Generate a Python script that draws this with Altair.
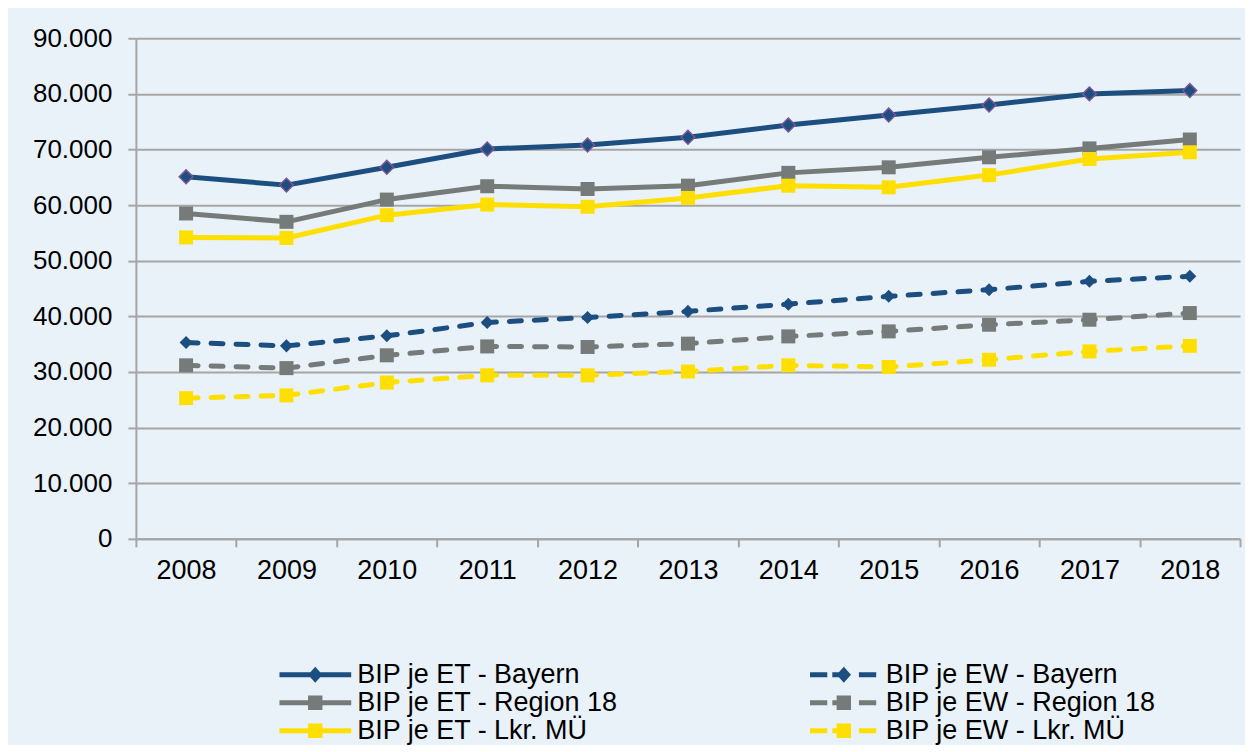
import altair as alt
import pandas as pd

years = ["2008", "2009", "2010", "2011", "2012", "2013", "2014", "2015", "2016", "2017", "2018"]

series_names = [
    "BIP je ET - Bayern",
    "BIP je ET - Region 18",
    "BIP je ET - Lkr. MÜ",
    "BIP je EW - Bayern",
    "BIP je EW - Region 18",
    "BIP je EW - Lkr. MÜ",
]

et_bayern = [65100, 63600, 66800, 70100, 70800, 72200, 74400, 76200, 78000, 80000, 80600]
et_region = [58500, 57000, 61000, 63400, 62900, 63500, 65800, 66800, 68600, 70200, 71800]
et_lkr = [54200, 54100, 58200, 60100, 59700, 61300, 63500, 63200, 65400, 68300, 69500]
ew_bayern = [35300, 34700, 36500, 38900, 39800, 40900, 42200, 43600, 44800, 46300, 47200]
ew_region = [31200, 30700, 33000, 34600, 34500, 35100, 36400, 37300, 38500, 39400, 40600]
ew_lkr = [25300, 25800, 28100, 29400, 29400, 30100, 31200, 30900, 32200, 33700, 34700]

y_ticks = [0, 10000, 20000, 30000, 40000, 50000, 60000, 70000, 80000, 90000]

values_by_series = [et_bayern, et_region, et_lkr, ew_bayern, ew_region, ew_lkr]

rows = []
for name, vals in zip(series_names, values_by_series):
    for yr, v in zip(years, vals):
        rows.append({"year": yr, "series": name, "value": v})
df = pd.DataFrame(rows)

BLUE = "#1C4E80"
GRAY = "#767A79"
YELLOW = "#FFDF00"
PURPLE = "#7A5695"
BG = "#E9F1F9"
GRID = "#A6A6A6"
FONT = "Liberation Sans"

# styles per series (same order as series_names)
s_colors = [BLUE, GRAY, YELLOW, BLUE, GRAY, YELLOW]
s_dashed = [False, False, False, True, True, True]
s_shapes = ["diamond", "square", "square", "diamond", "square", "square"]
s_sizes = [190, 196, 196, 170, 196, 196]
s_stroke = [PURPLE, None, None, None, None, None]

# legend symbol paths (unit = half symbol width)
bar = "M-1,-0.07L1,-0.07L1,0.07L-1,0.07Z"
dia = "M-0.2,0L0,-0.22L0.2,0L0,0.22Z"
sq = "M-0.2,-0.2L0.2,-0.2L0.2,0.2L-0.2,0.2Z"
dashes = ("M-0.94,-0.07L-0.46,-0.07L-0.46,0.07L-0.94,0.07Z"
          "M0.42,-0.07L0.9,-0.07L0.9,0.07L0.42,0.07Z"
          "M-0.32,-0.07L0,-0.07L0,0.07L-0.32,0.07Z")
legend_paths = [
    bar + dia, bar + sq, bar + sq,
    dashes + dia, dashes + sq, dashes + sq,
]

legend = alt.Legend(
    title=None,
    orient="none",
    legendX=143.5,
    legendY=623,
    columns=2,
    columnPadding=189,
    rowPadding=0,
    clipHeight=28,
    symbolSize=5184,
    symbolStrokeWidth=0,
    symbolOpacity=1,
    labelFontSize=27,
    labelFont=FONT,
    labelColor="black",
    labelOffset=6,
    labelLimit=0,
    padding=0,
)

x_enc = alt.X(
    "year:O",
    sort=years,
    bandPosition=0.5,
    scale=alt.Scale(type="band", paddingInner=0, paddingOuter=0),
    axis=alt.Axis(
        title=None,
        labelAngle=0,
        tickBand="extent",
        grid=False,
        domainColor=GRID,
        domainWidth=2,
        tickColor=GRID,
        tickWidth=2,
        tickSize=8,
        labelFontSize=27,
        labelFont=FONT,
        labelColor="black",
        labelPadding=11,
    ),
)
y_enc = alt.Y(
    "value:Q",
    scale=alt.Scale(domain=[0, 90000], nice=False),
    axis=alt.Axis(
        title=None,
        values=y_ticks,
        labelExpr="replace(format(datum.value, ',d'), ',', '.')",
        grid=True,
        gridColor=GRID,
        gridWidth=2,
        domainColor=GRID,
        domainWidth=2,
        tickColor=GRID,
        tickWidth=2,
        tickSize=8,
        labelFontSize=26,
        labelFont=FONT,
        labelColor="black",
        labelPadding=16,
    ),
)

base = alt.Chart(df)

line_layers = []
point_layers = []
for name, col, dashed, shp, sz, stk in zip(series_names, s_colors, s_dashed, s_shapes, s_sizes, s_stroke):
    sel = base.transform_filter(alt.datum.series == name)
    lkw = dict(strokeWidth=5, strokeCap="round", strokeJoin="round", color=col)
    if dashed:
        lkw["strokeDash"] = [12, 13]
    line_layers.append(sel.mark_line(**lkw).encode(x=x_enc, y=y_enc))
    pkw = dict(shape=shp, filled=True, size=sz, opacity=1, fill=col)
    if stk:
        pkw["stroke"] = stk
        pkw["strokeWidth"] = 1.5
    else:
        pkw["strokeWidth"] = 0
    point_layers.append(sel.mark_point(**pkw).encode(x=x_enc, y=y_enc))

legend_layer = base.transform_filter("false").mark_point(filled=True, opacity=1, strokeWidth=0).encode(
    color=alt.Color("series:N", scale=alt.Scale(domain=series_names, range=s_colors), legend=legend),
    shape=alt.Shape("series:N", scale=alt.Scale(domain=series_names, range=legend_paths), legend=legend),
)

chart = (
    alt.layer(*line_layers, *point_layers, legend_layer)
    .properties(
        width=1105,
        height=501,
        background=BG,
        padding={"left": 24, "top": 17, "right": 4, "bottom": 0},
    )
    .configure_view(stroke=None)
)

chart.save("out.html", embed_options={"renderer": "svg", "actions": False})
